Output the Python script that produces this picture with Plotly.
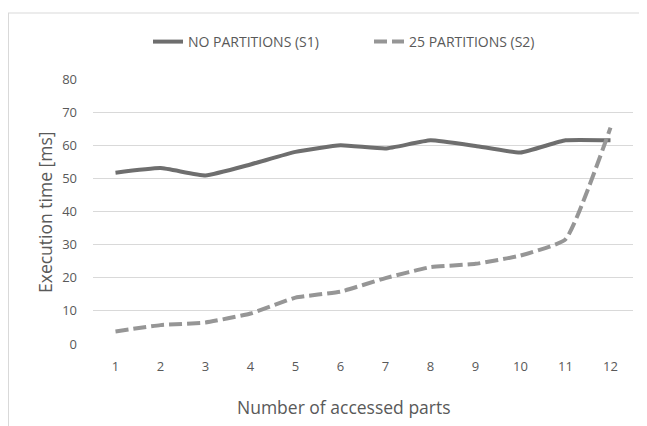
import plotly.graph_objects as go

categories = ["1", "2", "3", "4", "5", "6", "7", "8", "9", "10", "11", "12"]
s1_values = [51.7, 53.1, 50.9, 54.2, 58.0, 60.0, 59.0, 61.5, 59.8, 57.8, 61.5, 61.5]
s2_values = [3.8, 5.7, 6.5, 9.2, 14.0, 15.8, 19.9, 23.2, 24.2, 26.7, 31.6, 65.3]
s1_name = "NO PARTITIONS (S1)"
s2_name = "25 PARTITIONS (S2)"
y_ticks = [0, 10, 20, 30, 40, 50, 60, 70, 80]

FONT = "Open Sans"
TXT = "#595959"

fig = go.Figure()
fig.add_trace(go.Scatter(
    x=categories, y=s1_values, name=s1_name, mode="lines",
    line=dict(color="#6e6e6e", width=4, shape="spline", smoothing=0.4),
))
fig.add_trace(go.Scatter(
    x=categories, y=s2_values, name=s2_name, mode="lines",
    line=dict(color="#969696", width=4, dash="13px,5px", shape="spline", smoothing=0.4),
))

# page body has an 8px margin: figure coordinates = page coordinates - 8
OFF = 8
W, H = 647 - OFF, 426 - OFF
L, T = 93 - OFF, 79 - OFF
pw, ph = 540, 265
R = W - L - pw
B = H - T - ph

def px_to_paper_x(px):
    return (px - OFF - L) / pw

def px_to_paper_y(py):
    return (T + ph - (py - OFF)) / ph

fig.update_layout(
    width=W, height=H,
    margin=dict(l=L, r=R, t=T, b=B, autoexpand=False),
    paper_bgcolor="white", plot_bgcolor="white",
    font=dict(family=FONT, color=TXT, size=13),
    showlegend=True,
    legend=dict(
        orientation="h", x=px_to_paper_x(148), xanchor="left",
        y=px_to_paper_y(42), yanchor="middle",
        font=dict(family=FONT, size=14, color=TXT),
        entrywidth=176, entrywidthmode="pixels",
        bgcolor="rgba(0,0,0,0)",
    ),
    xaxis=dict(
        type="category", range=[-0.5, 11.5],
        showgrid=False, zeroline=False, showline=False,
        ticks="", ticklabelstandoff=13,
        tickfont=dict(family=FONT, size=13, color=TXT),
    ),
    yaxis=dict(
        range=[0, 80], tickvals=y_ticks,
        showgrid=True, gridcolor="#d9d9d9", gridwidth=1,
        zeroline=False, showline=False, ticks="",
        ticklabelstandoff=15,
        tickfont=dict(family=FONT, size=13, color=TXT),
    ),
    annotations=[
        dict(text="Number of accessed parts", xref="paper", yref="paper",
             x=px_to_paper_x(344), y=px_to_paper_y(407),
             xanchor="center", yanchor="middle", showarrow=False,
             font=dict(family=FONT, size=17.5, color=TXT)),
        dict(text="Execution time [ms]", xref="paper", yref="paper",
             x=px_to_paper_x(45), y=px_to_paper_y(212), textangle=-90,
             xanchor="center", yanchor="middle", showarrow=False,
             font=dict(family=FONT, size=17.5, color=TXT)),
    ],
    shapes=[
        dict(type="line", xref="paper", yref="paper",
             x0=px_to_paper_x(8.5), x1=px_to_paper_x(8.5),
             y0=px_to_paper_y(13), y1=px_to_paper_y(426),
             line=dict(color="#d9d9d9", width=1)),
        dict(type="line", xref="paper", yref="paper",
             x0=px_to_paper_x(8), x1=px_to_paper_x(647),
             y0=px_to_paper_y(13), y1=px_to_paper_y(13),
             line=dict(color="#d9d9d9", width=1)),
    ],
)

fig.write_html("out.html", config={"displayModeBar": False})
